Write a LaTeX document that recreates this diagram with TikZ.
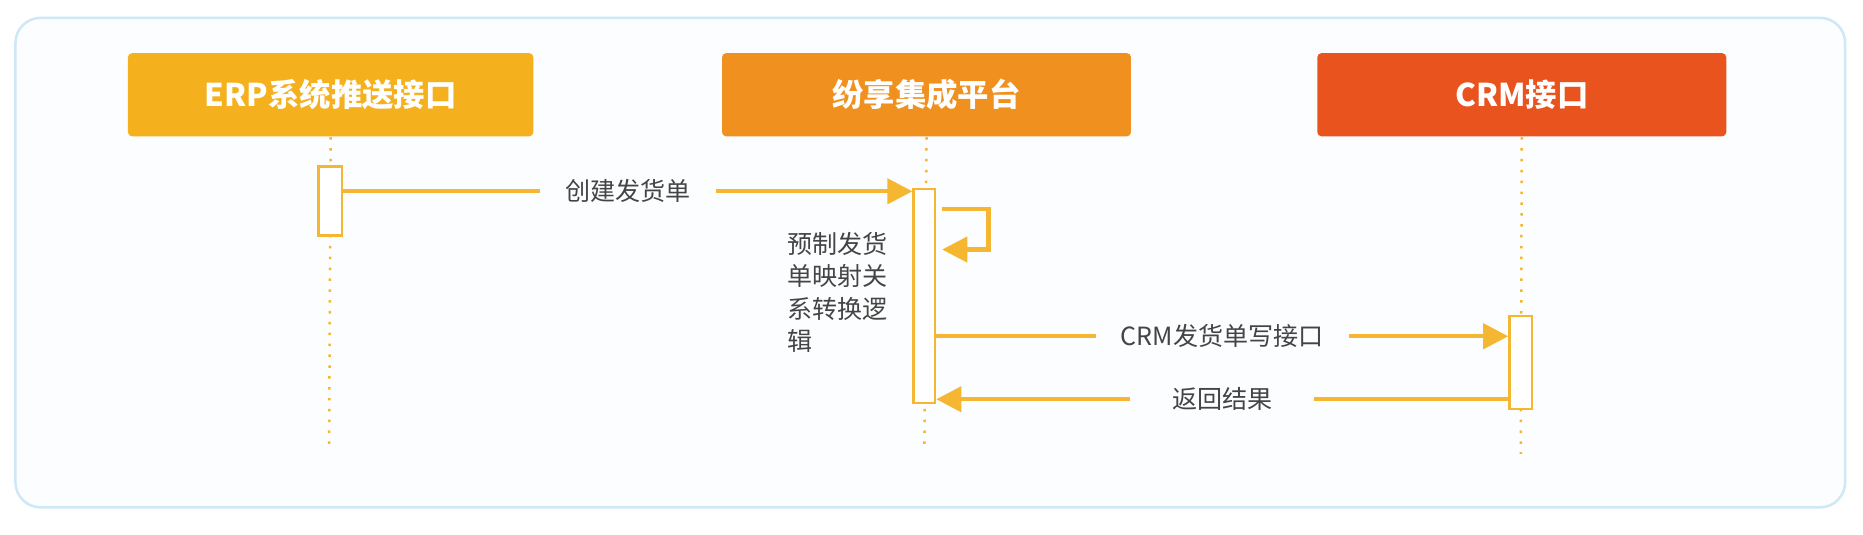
\documentclass[tikz,border=0pt]{standalone}
\usepackage{fontspec}
\setmainfont{Noto Sans CJK SC}
\usetikzlibrary{arrows.meta}
\definecolor{c1}{HTML}{F5B01E}
\definecolor{c2}{HTML}{F0901E}
\definecolor{c3}{HTML}{E8531E}
\definecolor{ar}{HTML}{F5B731}
\definecolor{fr}{HTML}{CFE8F5}
\definecolor{bg}{HTML}{FCFDFE}
\definecolor{tx}{HTML}{444444}
\begin{document}
\begin{tikzpicture}[x=0.01cm,y=-0.01cm,
  head/.style={draw=none,minimum width=3.41cm,minimum height=0.7cm,rounded corners=1pt,text=white,font=\fontsize{7.5}{9}\selectfont\bfseries,anchor=north west},
  life/.style={ar,dotted,line width=0.6pt},
  act/.style={draw=ar,fill=white,line width=0.6pt,minimum width=0.2cm,anchor=north,inner sep=0},
  msg/.style={ar,line width=1pt,-{Triangle[length=6pt,width=6pt]}},
  lbl/.style={fill=bg,text=tx,font=\fontsize{6}{7}\selectfont,inner xsep=6pt}]
\useasboundingbox (0,0) rectangle (1568,450);
\draw[fr,fill=bg,rounded corners=6pt,line width=0.6pt] (13,15) rectangle (1553,427);
\node[head,fill=c1] (h1) at (107,44) {ERP系统推送接口};
\node[head,fill=c2,minimum width=3.44cm] (h2) at (607,44) {纷享集成平台};
\node[head,fill=c3,minimum width=3.44cm] (h3) at (1108,44) {CRM接口};
\coordinate (e1) at (277,378); \coordinate (e2) at (778,380); \coordinate (e3) at (1280,382);
\draw[life] (h1.south) -- (e1);
\draw[life] (h2.south) -- (e2);
\draw[life] (h3.south) -- (e3);
\node[act,minimum height=0.58cm] (a1) at (278,139) {};
\node[act,minimum height=1.8cm,minimum width=0.18cm] (a2) at (778,158) {};
\node[act,minimum height=0.78cm,minimum width=0.19cm] (a3) at (1280,265) {};
\draw[msg] (a1.east |- 0,161) -- node[lbl]{创建发货单} (a2.west |- 0,161);
\coordinate (s1) at (793,176); \coordinate (s2) at (793,210);
\draw[msg] (s1) -- (832,176) -- (832,210) -- (s2);
\node[text=tx,font=\fontsize{6}{7.7}\selectfont,align=left,anchor=north west,inner sep=0] (t) at (662,195) {预制发货\\单映射关\\系转换逻\\辑};
\draw[msg] (a2.east |- 0,283) -- node[lbl]{CRM发货单写接口} (a3.west |- 0,283);
\draw[msg] (a3.west |- 0,336) -- node[lbl,inner xsep=10pt]{返回结果} (a2.east |- 0,336);
\end{tikzpicture}
\end{document}
